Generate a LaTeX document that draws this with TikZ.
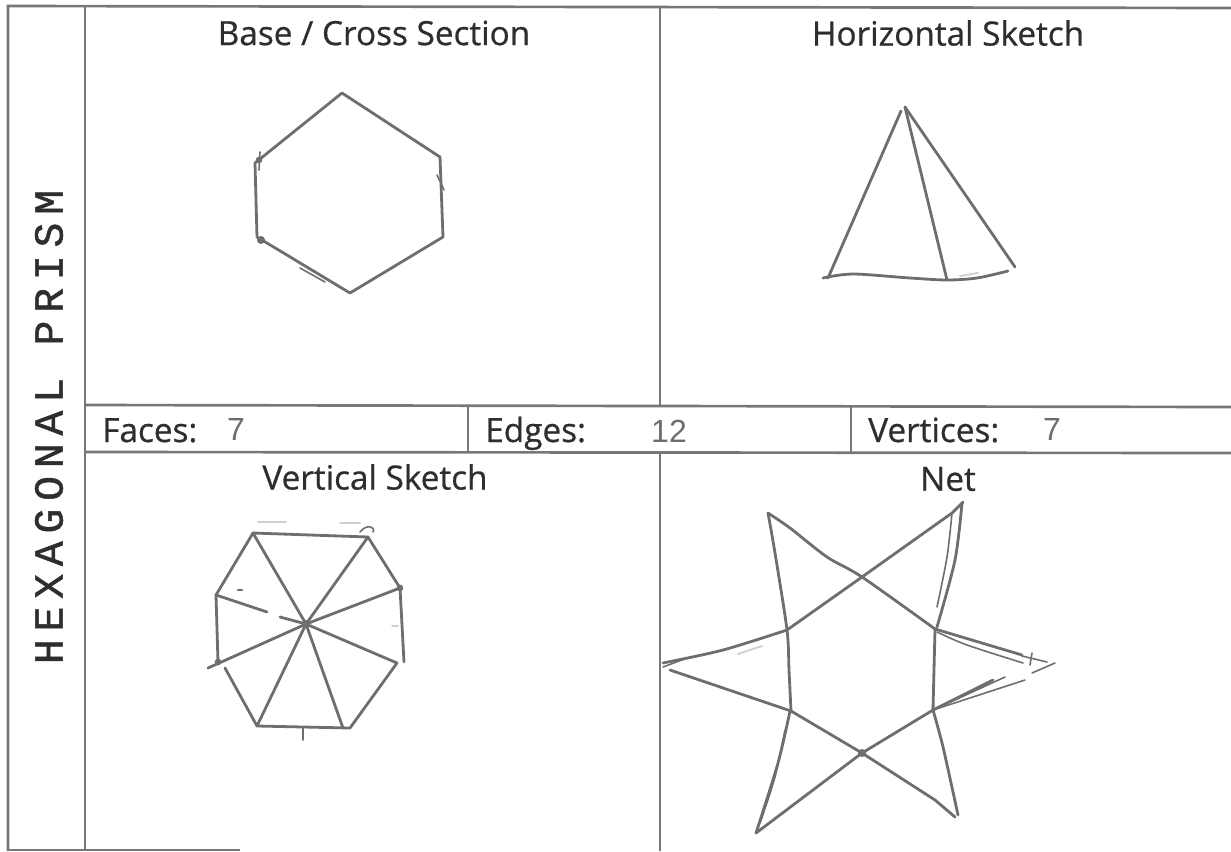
\documentclass[tikz,border=0pt]{standalone}
\usepackage{fontspec}
\usepackage{xcolor}
\setmainfont[FakeBold=0.7]{Open Sans}
\newfontfamily\prismfont[LetterSpace=19,FakeBold=1.2]{Liberation Mono}
\newfontfamily\handfont{Liberation Sans}
\definecolor{gridgray}{HTML}{777777}
\definecolor{sketchgray}{HTML}{6E6E6E}
\definecolor{inkdark}{HTML}{2E2E2E}
\tikzset{
    gridline/.style={color=gridgray, line width=2pt},
    sketch/.style={color=sketchgray, line width=2.1pt, line cap=round, line join=round},
    thinsketch/.style={color=sketchgray, line width=1.2pt, line cap=round},
    smudge/.style={color=black!18, line width=1.5pt, line cap=round},
    title/.style={color=inkdark, font=\fontsize{25}{30}\selectfont},
    count/.style={title, anchor=base west, inner sep=0pt},
    hand/.style={color=sketchgray, anchor=base, inner sep=0pt, font=\handfont\fontsize{24}{28}\selectfont}
}

\begin{document}
\begin{tikzpicture}[x=0.75pt, y=-0.75pt]
    \useasboundingbox (0,0) rectangle (1231,851);

    % Grid of the sheet
    \draw[gridline] (8,851) -- (8,6) -- (1231,8);
    \draw[gridline] (8,850) -- (240,850);
    \draw[gridline] (85,6) -- (85,851);
    \draw[gridline] (660,7) -- (660,405);
    \draw[gridline] (660,452) -- (660,851);
    \draw[gridline] (85,405) -- (1231,407);
    \draw[gridline] (85,452) -- (1231,453);
    \draw[gridline] (468,405) -- (468,452);
    \draw[gridline] (851,406) -- (851,453);

    % Titles of the cells
    \node[title] (basetitle) at (374,33) {Base / Cross Section};
    \node[title] (horizontaltitle) at (948,33) {Horizontal Sketch};
    \node[title] (verticaltitle) at (375,477) {Vertical Sketch};
    \node[title] (nettitle) at (948,479) {Net};

    % Counts
    \node[count] (faceslabel) at (102,442) {Faces:};
    \node[count] (edgeslabel) at (485,442) {Edges:};
    \node[count] (verticeslabel) at (868,442) {Vertices:};
    \node[hand] (facescount) at (236,440) {7};
    \node[hand] (edgescount) at (669,442) {12};
    \node[hand] (verticescount) at (1052,440) {7};

    % Name of the solid
    \node[rotate=90, color=inkdark, font=\prismfont\fontsize{31}{35}\selectfont] (solidname) at (49,427) {HEXAGONAL PRISM};

    % Base
    \draw[sketch] (342,93) -- (440,157) -- (443,237) -- (350,293) -- (257,237) -- (255,163) -- cycle;
    \draw[thinsketch] (260,152) -- (259,170);
    \draw[thinsketch] (437,175) -- (444,190);
    \draw[thinsketch] (300,268) -- (325,282);
    \fill[sketchgray] (259,160) circle (2.5pt);
    \fill[sketchgray] (261,240) circle (3pt);

    % Horizontal sketch
    \draw[sketch] (901,111) -- (828,278);
    \draw[sketch] (905,107) -- (947,280);
    \draw[sketch] (905,107) -- (1015,267);
    \draw[sketch] plot[smooth] coordinates {(823,278) (853,274) (910,278) (947,280) (977,278) (1008,271)};
    \draw[smudge] (960,276) -- (978,273);

    % Vertical sketch
    \draw[sketch] (253,533) -- (368,537) -- (400,588) -- (404,662);
    \draw[sketch] (397,663) -- (350,728) -- (257,726) -- (225,668);
    \draw[sketch] (218,662) -- (216,595) -- (253,533);
    \draw[sketch] (306,624) -- (253,533);
    \draw[sketch] (306,624) -- (368,537);
    \draw[sketch] (306,624) -- (400,588);
    \draw[sketch] (306,624) -- (397,663);
    \draw[sketch] (306,624) -- (343,728);
    \draw[sketch] (306,624) -- (257,726);
    \draw[sketch] (306,624) -- (208,668);
    \draw[sketch] (216,595) -- (267,612);
    \draw[sketch] (280,617) -- (306,624);
    \fill[sketchgray] (306,624) circle (3pt);
    \fill[sketchgray] (400,588) circle (2.5pt);
    \fill[sketchgray] (218,662) circle (2.5pt);
    \draw[thinsketch] (360,532) .. controls (366,524) and (376,526) .. (373,532);
    \draw[thinsketch] (303,728) -- (303,740);
    \draw[sketch] (238,590) -- (242,590);
    \draw[smudge] (258,522) -- (286,522);
    \draw[smudge] (340,523) -- (360,523);
    \draw[smudge] (392,626) -- (398,626);

    % Net
    \draw[sketch] plot[smooth] coordinates {(768,513) (790,528) (827,557) (862,577) (935,629)};
    \draw[sketch] plot[smooth] coordinates {(768,513) (775,553) (787,630) (789,670) (791,711)};
    \draw[sketch] (787,630) -- (862,577) -- (952,513) -- (963,502);
    \draw[thinsketch] plot[smooth] coordinates {(952,513) (947,557) (937,607)};
    \draw[sketch] plot[smooth] coordinates {(962,503) (955,560) (937,627)};
    \draw[sketch] (935,629) -- (1022,655);
    \draw[thinsketch] plot[smooth] coordinates {(937,632) (967,645) (1023,663)};
    \draw[thinsketch] (1032,653) -- (1030,665);
    \draw[thinsketch] (1022,656) -- (1047,662);
    \draw[thinsketch] (1032,673) -- (1055,663);
    \draw[sketch] (935,629) -- (933,710);
    \draw[sketch] (933,710) -- (993,680);
    \draw[thinsketch] (933,710) -- (1005,677);
    \draw[thinsketch] (933,710) -- (1025,680);
    \draw[sketch] (933,710) -- (862,753) -- (756,833);
    \draw[sketch] plot[smooth] coordinates {(933,710) (943,747) (958,815)};
    \draw[sketch] (791,711) -- (862,753) -- (935,800) -- (955,817);
    \draw[sketch] plot[smooth] coordinates {(787,630) (723,650) (663,663)};
    \draw[thinsketch] (663,667) -- (687,658);
    \draw[sketch] (670,670) -- (791,711);
    \draw[sketch] plot[smooth] coordinates {(790,711) (778,763) (756,833)};
    \draw[thinsketch] plot[smooth] coordinates {(785,730) (775,777) (760,823)};
    \fill[sketchgray] (862,753) circle (3pt);
    \draw[smudge] (738,654) -- (762,646);
\end{tikzpicture}
\end{document}
